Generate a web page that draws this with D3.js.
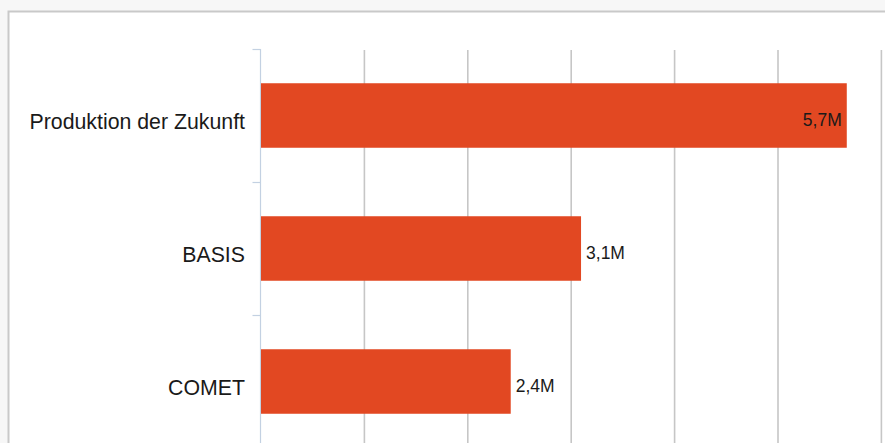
<!DOCTYPE html>
<html>
<head>
<meta charset="utf-8">
<script src="https://cdn.jsdelivr.net/npm/d3@7"></script>
<style>
  html, body { margin: 0; padding: 0; background: #f7f7f7; overflow: hidden; }
  svg { display: block; font-family: "Liberation Sans", Arial, sans-serif; }
</style>
</head>
<body>
<div class="barchart"></div>
<script>
// DATA ------------------------------
const categories = ["Produktion der Zukunft", "BASIS", "COMET"];
const values = [5.67, 3.10, 2.42]; // millions
const labels = ["5,7M", "3,1M", "2,4M"];

const W = 885, H = 443;

const svg = d3.select(".barchart")
    .append("svg")
    .attr("width", W)
    .attr("height", H);

// frame
svg.append("rect")
    .attr("x", 8.5)
    .attr("y", 11.5)
    .attr("width", W + 20)
    .attr("height", H + 20)
    .attr("fill", "#fff")
    .attr("stroke", "#c9c9c9")
    .attr("stroke-width", 2);

// scales
const pad = 0.515;
const yScale = d3.scaleBand()
    .domain(categories)
    .range([49, 448])
    .paddingInner(pad)
    .paddingOuter(pad / 2);

const xScale = d3.scaleLinear()
    .domain([0, 6.5])
    .range([260.5, 260.5 + 6.5 * 103.4]);

// grid
const grid = svg.append("g")
    .attr("transform", "translate(0,50)")
    .call(d3.axisBottom(xScale)
        .tickValues(d3.range(1, 7))
        .tickSize(H)
        .tickFormat(""));
grid.select(".domain").remove();
grid.selectAll("line")
    .attr("stroke", "#c6c6c6")
    .attr("stroke-width", 1.6);

// y axis line + boundary ticks
const step = yScale.step();
const boundaries = categories.map(c => yScale(c) - step * pad / 2);
svg.append("line")
    .attr("x1", xScale(0)).attr("x2", xScale(0))
    .attr("y1", 49).attr("y2", H)
    .attr("stroke", "#c3d1e2")
    .attr("stroke-width", 1.2);
svg.selectAll(".btick")
    .data(boundaries)
    .enter()
    .append("line")
    .attr("class", "btick")
    .attr("x1", xScale(0) - 8)
    .attr("x2", xScale(0))
    .attr("y1", d => Math.round(d) + 0.5)
    .attr("y2", d => Math.round(d) + 0.5)
    .attr("stroke", "#c3d1e2")
    .attr("stroke-width", 1.2);

// bars
const rows = categories.map((c, i) => ({cat: c, value: values[i], label: labels[i]}));
const maxVal = d3.max(values);

svg.selectAll(".bar")
    .data(rows)
    .enter()
    .append("rect")
    .attr("class", "bar")
    .attr("fill", "#e24822")
    .attr("x", xScale(0) + 0.5)
    .attr("y", d => yScale(d.cat))
    .attr("width", d => xScale(d.value) - xScale(0) - 0.5)
    .attr("height", yScale.bandwidth());

// category labels
svg.selectAll(".cat")
    .data(rows)
    .enter()
    .append("text")
    .attr("class", "cat")
    .attr("x", 245)
    .attr("y", d => yScale(d.cat) + yScale.bandwidth() / 2 + 13.5)
    .attr("text-anchor", "end")
    .attr("font-size", "21.3px")
    .attr("fill", "#1a1a1a")
    .text(d => d.cat);

// value labels
svg.selectAll(".val")
    .data(rows)
    .enter()
    .append("text")
    .attr("class", "val")
    .attr("x", d => d.value === maxVal ? xScale(d.value) - 5 : xScale(d.value) + 5)
    .attr("y", d => yScale(d.cat) + yScale.bandwidth() / 2 + 10.5)
    .attr("text-anchor", d => d.value === maxVal ? "end" : "start")
    .attr("font-size", "17.5px")
    .attr("fill", "#1a1a1a")
    .text(d => d.label);
</script>
</body>
</html>
